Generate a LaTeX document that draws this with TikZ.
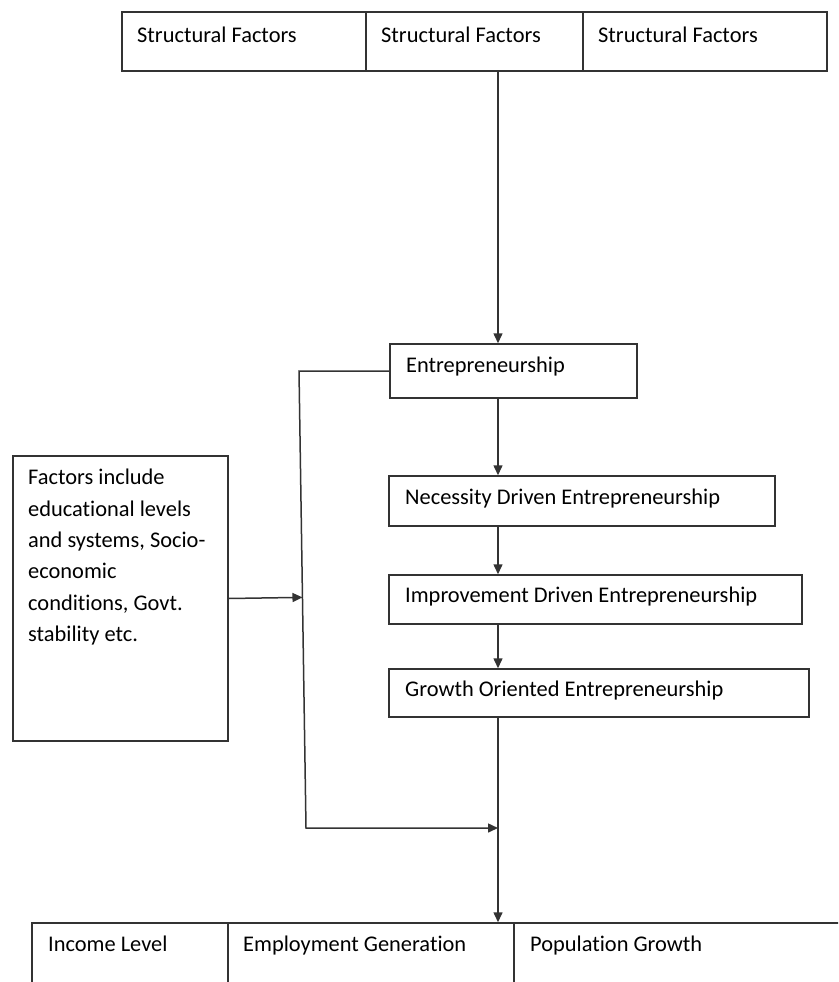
\documentclass[tikz,border=0pt]{standalone}
\usepackage{fontspec}
\setmainfont{Carlito}[Ligatures={NoCommon,NoContextual},RawFeature={-liga;-clig;-calt;-dlig}]
\usetikzlibrary{arrows.meta,positioning,calc}

\begin{document}
\begin{tikzpicture}[x=1pt,y=-1pt,>={Triangle[length=10pt,width=9pt]},
    box/.style={draw=black!80,line width=1.5pt,inner sep=0pt},
    txt/.style={anchor=base west,inner sep=0pt,font=\fontsize{22.4}{31.4}\selectfont},
    link/.style={draw=black!80,line width=1.5pt}]
  \useasboundingbox (0,0) rectangle (838,982);
  \clip (0,0) rectangle (838,982);

  % Structural factors row
  \node[box,minimum width=244pt,minimum height=59pt] (sf1) at (244,41.5) {};
  \node[box,minimum width=217pt,minimum height=59pt] (sf2) at (474.5,41.5) {};
  \node[box,minimum width=244pt,minimum height=59pt] (sf3) at (705,41.5) {};
  \node[txt] (sf1t) at (137,43) {Structural Factors};
  \node[txt] (sf2t) at (381,43) {Structural Factors};
  \node[txt] (sf3t) at (598,43) {Structural Factors};

  % Entrepreneurship chain
  \node[box,minimum width=247pt,minimum height=54pt] (entre) at (513.5,371) {};
  \node[txt] (entret) at (406,372) {Entrepreneurship};
  \node[box,minimum width=386pt,minimum height=50pt] (nec) at (582,501) {};
  \node[txt] (nect) at (405,504) {Necessity Driven Entrepreneurship};
  \node[box,minimum width=413pt,minimum height=49pt] (imp) at (595.5,599.5) {};
  \node[txt] (impt) at (405,602) {Improvement Driven Entrepreneurship};
  \node[box,minimum width=420pt,minimum height=48pt] (gro) at (599,693) {};
  \node[txt] (grot) at (405,696) {Growth Oriented Entrepreneurship};

  % Other factors
  \node[box,minimum width=215pt,minimum height=285pt] (fac) at (120.5,598.5) {};
  \node[txt,anchor=north west,align=left] (fact) at (28,469)
    {Factors include\\educational levels\\and systems, Socio-\\economic\\conditions, Govt.\\stability etc.};

  % Outcomes row
  \node[box,minimum width=196pt,minimum height=100pt] (il) at (130,973) {};
  \node[box,minimum width=286pt,minimum height=100pt] (eg) at (371,973) {};
  \node[box,minimum width=340pt,minimum height=100pt] (pg) at (684,973) {};
  \node[txt] (ilt) at (48,951) {Income Level};
  \node[txt] (egt) at (243,951) {Employment Generation};
  \node[txt] (pgt) at (530,951) {Population Growth};

  % Connectors
  \coordinate (spine) at (498,0);
  \coordinate (bendtop) at (299,371);
  \coordinate (bendbot) at (306,828);
  \coordinate (join) at (498,828);
  \draw[link,->] (sf2.south -| spine) -- (entre.north -| spine);
  \draw[link,->] (entre.south -| spine) -- (nec.north -| spine);
  \draw[link,->] (nec.south -| spine) -- (imp.north -| spine);
  \draw[link,->] (imp.south -| spine) -- (gro.north -| spine);
  \draw[link,->] (gro.south -| spine) -- (eg.north -| spine);
  \draw[link,->] (entre.west) -- (bendtop) -- (bendbot) -- (join);
  \draw[link,->] (fac.east) -- ($(bendtop)!(fac.east)!(bendbot)$);
\end{tikzpicture}
\end{document}
